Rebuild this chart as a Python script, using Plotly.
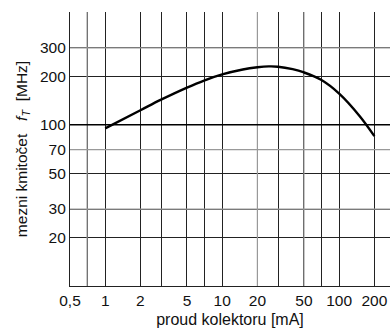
import plotly.graph_objects as go
import math

# data
current_mA = [1, 2, 3, 5, 7, 10, 15, 20, 25, 30, 40, 50, 70, 100, 150, 200]
ft_MHz = [95, 123, 143, 170, 188, 205, 220, 227, 230, 229, 221, 211, 190, 156, 113, 85]

x_ticks = [0.5, 1, 2, 5, 10, 20, 50, 100, 200]
x_tick_text = ["0,5", "1", "2", "5", "10", "20", "50", "100", "200"]
x_extra_grid = [0.7, 3, 7, 30, 70]
x_light_grid = [0.7, 20, 50]

y_ticks = [20, 30, 50, 70, 100, 200, 300]
y_light_grid = [30, 70, 300]

dark = "#222222"
light = "#999999"
font = "Liberation Sans, Arial, sans-serif"

fig = go.Figure()

y_lo, y_hi = 10, 500
x_lo, x_hi = 0.5, 272

# lighter grid lines drawn over the dark grid
for xv in x_light_grid:
    fig.add_trace(go.Scatter(x=[xv, xv], y=[y_lo, y_hi], mode="lines",
                             line=dict(color=light, width=1.2), hoverinfo="skip", showlegend=False))
for yv in y_light_grid:
    fig.add_trace(go.Scatter(x=[x_lo, x_hi], y=[yv, yv], mode="lines",
                             line=dict(color=light, width=1.2), hoverinfo="skip", showlegend=False))
# thicker line at 100 MHz
fig.add_trace(go.Scatter(x=[x_lo, x_hi], y=[100, 100], mode="lines",
                         line=dict(color="#000000", width=1.6), hoverinfo="skip", showlegend=False))

fig.add_trace(go.Scatter(x=current_mA, y=ft_MHz, mode="lines",
                         line=dict(color="#000000", width=2.4, shape="spline", smoothing=1.0),
                         showlegend=False))

fig.update_layout(
    width=390, height=329,
    margin=dict(l=70, r=0, t=12, b=43),
    paper_bgcolor="white", plot_bgcolor="white",
    font=dict(family=font, size=15, color="#111111"),
    showlegend=False,
)

fig.update_xaxes(
    type="log", range=[math.log10(x_lo), math.log10(x_hi)],
    tickvals=x_ticks, ticktext=x_tick_text, ticks="",
    showgrid=True, gridcolor=dark, gridwidth=1.2,
    minor=dict(tickvals=x_extra_grid, showgrid=True, gridcolor=dark, gridwidth=1.2, ticks=""),
    showline=True, linecolor=dark, linewidth=1.2,
    zeroline=False, tickfont=dict(size=15.5),
    title=dict(text="proud kolektoru [mA]", font=dict(size=16), standoff=6),
)
fig.update_yaxes(
    type="log", range=[math.log10(y_lo), math.log10(y_hi)],
    tickvals=y_ticks, ticktext=[str(v) for v in y_ticks], ticks="",
    showgrid=True, gridcolor=dark, gridwidth=1.2,
    showline=True, linecolor=dark, linewidth=1.2,
    zeroline=False, tickfont=dict(size=15.5),
    title=dict(text="mezni kmitočet   <i>f</i><sub><i>T</i></sub>  [MHz]", font=dict(size=15.5), standoff=8),
)

fig.write_html("out.html")
